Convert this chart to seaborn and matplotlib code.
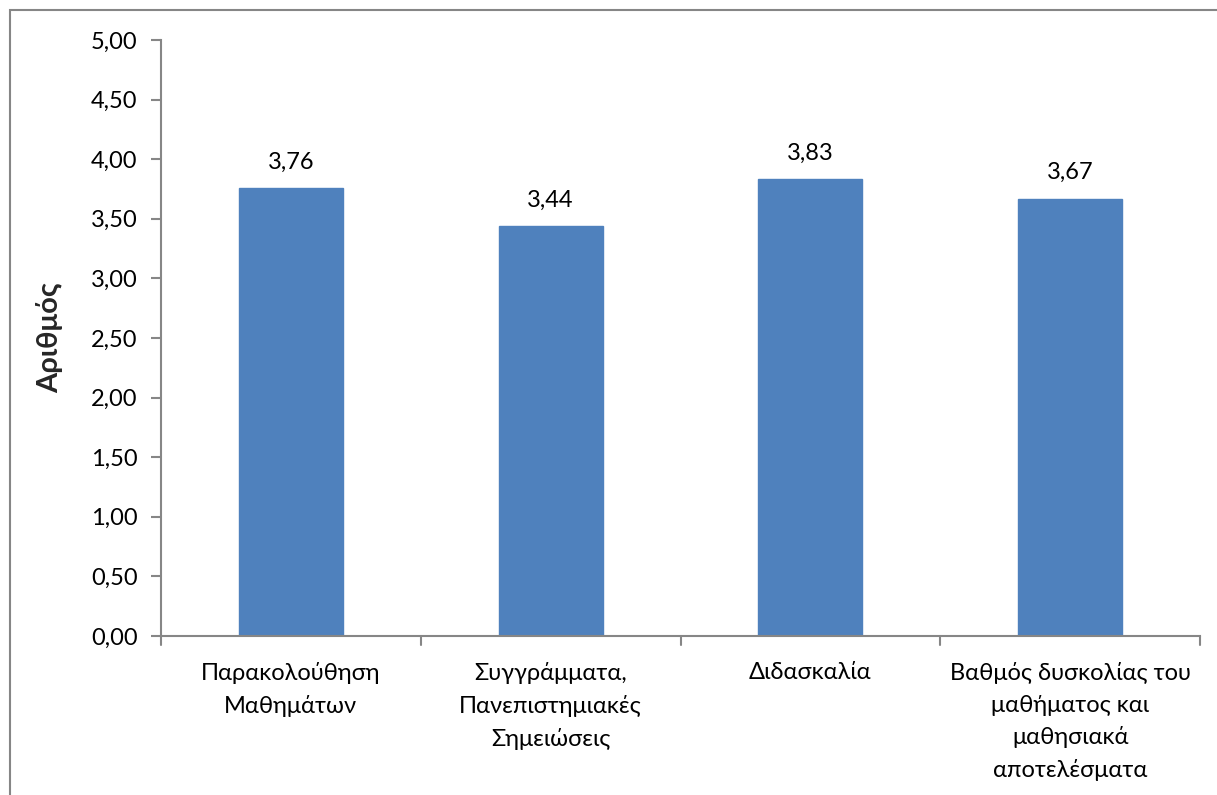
import matplotlib
matplotlib.use("Agg")
import matplotlib.pyplot as plt
import matplotlib.patches as mpatches
import seaborn as sns
import pandas as pd

categories = [
    "Παρακολούθηση\nΜαθημάτων",
    "Συγγράμματα,\nΠανεπιστημιακές\nΣημειώσεις",
    "Διδασκαλία",
    "Βαθμός δυσκολίας του\nμαθήματος και\nμαθησιακά\nαποτελέσματα",
]
values = [3.76, 3.44, 3.83, 3.67]
value_labels = ["3,76", "3,44", "3,83", "3,67"]
y_ticks = [0.0, 0.5, 1.0, 1.5, 2.0, 2.5, 3.0, 3.5, 4.0, 4.5, 5.0]
y_label = "Αριθμός"

sns.set_theme(style="white")
plt.rcParams["font.family"] = ["Lato", "DejaVu Sans"]

W, H = 1217, 795
FS = 17
fig = plt.figure(figsize=(W / 100, H / 100), dpi=100)
ax = fig.add_axes([161 / W, 1 - 636 / H, (1200 - 161) / W, (636 - 40) / H])

df = pd.DataFrame({"cat": categories, "val": values})
sns.barplot(data=df, x="cat", y="val", color="#4F81BD", saturation=1,
            width=0.4, ax=ax, edgecolor="#4F81BD")

ax.set_ylim(0, 5)
ax.set_xlim(-0.5, len(categories) - 0.5)
ax.set_yticks(y_ticks)
ax.set_yticklabels([f"{t:.2f}".replace(".", ",") for t in y_ticks], fontsize=FS, color="black")

# category labels centred under bars, separator ticks between categories
ax.set_xticks(range(len(categories)))
ax.set_xticklabels(categories, fontsize=FS, color="black", linespacing=1.6, va="top")
ax.tick_params(axis="x", length=0, pad=19)
for b in [i - 0.5 for i in range(len(categories) + 1)]:
    ax.plot([b, b], [0, -0.075], color="#868686", lw=1.5, clip_on=False)
ax.tick_params(axis="y", length=7, width=1.5, color="#868686", direction="out", left=True, pad=10)

for s in ["top", "right"]:
    ax.spines[s].set_visible(False)
for s in ["left", "bottom"]:
    ax.spines[s].set_color("#868686")
    ax.spines[s].set_linewidth(1.5)

ax.set_xlabel("")
ax.set_ylabel(y_label, fontsize=21, fontweight="bold")
ax.yaxis.set_label_coords(-(161 - 50) / (1200 - 161), 0.5)
ax.yaxis.label.set_va("center")

for i, (v, lab) in enumerate(zip(values, value_labels)):
    ax.annotate(lab, (i, v), xytext=(0, 11), textcoords="offset points",
                ha="center", va="bottom", fontsize=FS, color="black")

# outer chart frame
fig.patches.append(mpatches.Rectangle((10 / W, -0.1), 1.2, 1 - 10 / H + 0.1,
                                      transform=fig.transFigure, fill=False,
                                      edgecolor="#868686", lw=1.5))

fig.savefig("out.png", dpi=100)
